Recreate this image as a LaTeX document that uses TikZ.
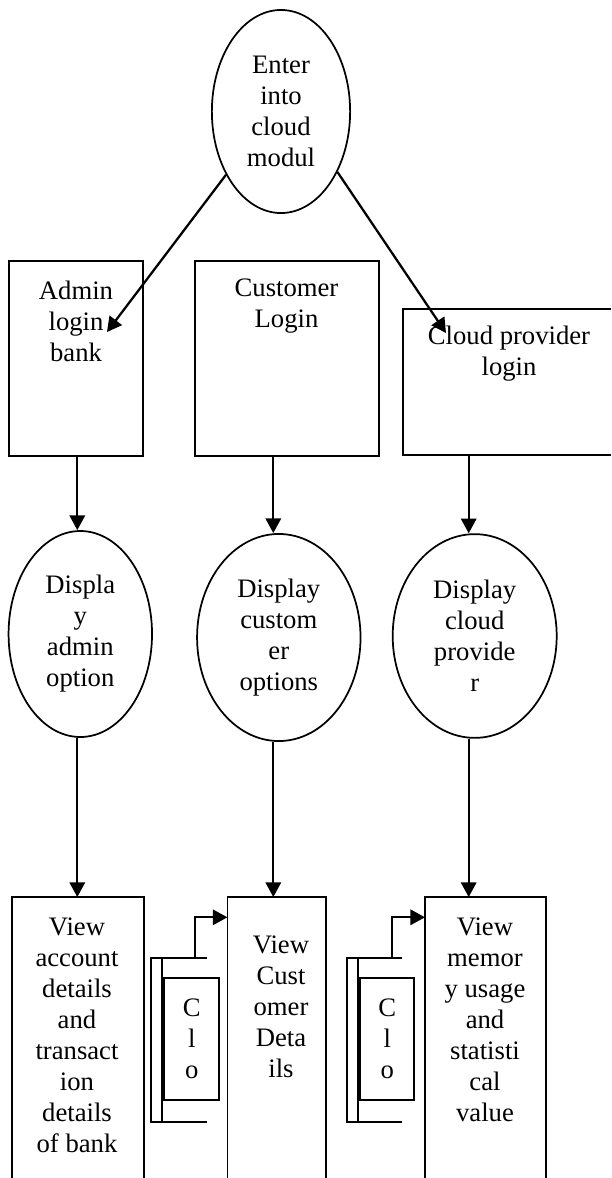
\documentclass[tikz,border=0pt]{standalone}
\usepackage{fontspec}
\setmainfont{Liberation Serif}
\usetikzlibrary{shapes.geometric,arrows.meta}

\begin{document}
\begin{tikzpicture}[x=0.75pt,y=-0.75pt,
  txt/.style={font=\fontsize{20}{23.25}\selectfont, align=center, inner sep=0pt},
  oval/.style={ellipse, draw, line width=1.3pt, inner sep=0pt, txt},
  box/.style={rectangle, draw, line width=1.4pt, inner sep=0pt},
  frame/.style={rectangle, inner sep=0pt},
  ln/.style={line width=1.4pt},
  arr/.style={line width=1.7pt, -{Triangle[length=11pt,width=11.5pt]}}]

\useasboundingbox (0,0) rectangle (611,1178);

% start
\node[oval, minimum width=103.7pt, minimum height=152.3pt] (top) at (281,111.5)
  {Enter\\into\\cloud\\modul};

% login boxes
\node[box, minimum width=100.5pt, minimum height=146.5pt] (abox) at (76.3,358.3) {};
\node[box, minimum width=137.8pt, minimum height=146.5pt] (cbox) at (286.85,358.3) {};
\node[frame, minimum width=155.8pt, minimum height=109.5pt] (pbox) at (507.15,382) {};
\draw[ln] (pbox.north east) -- (pbox.north west) -- (pbox.south west) -- (pbox.south east);

\node[txt] (atxt) at (76,321.5) {Admin\\login\\bank};
\node[txt] (ctxt) at (286.5,306) {Customer\\Login};
\node[txt] (ptxt) at (509,353.5) {Cloud provider\\login};

% option ellipses
\node[oval, minimum width=107.6pt, minimum height=154.5pt] (aell) at (80.3,634)
  {Displa\\y\\admin\\option};
\node[oval, minimum width=122.6pt, minimum height=155.3pt] (cell) at (278.8,637.5)
  {Display\\custom\\er\\options};
\node[oval, minimum width=123pt, minimum height=152.8pt] (pell) at (474.7,636)
  {Display\\cloud\\provide\\r};

% view boxes, open at the foot of the page
\node[frame, minimum width=98.25pt, minimum height=210.5pt] (aview) at (77.8,1037.65) {};
\node[frame, minimum width=73.7pt, minimum height=210.5pt] (cview) at (276.85,1037.65) {};
\node[frame, minimum width=90pt, minimum height=210.5pt] (pview) at (485.3,1037.65) {};
\foreach \v in {aview,cview,pview}
  \draw[ln] (\v.south west) -- (\v.north west) -- (\v.north east) -- (\v.south east);

\node[txt] (avtxt) at (77,1035) {View\\account\\details\\and\\transact\\ion\\details\\of bank};
\node[txt] (cvtxt) at (281,1006.5) {View\\Cust\\omer\\Deta\\ils};
\node[txt] (pvtxt) at (485,1020) {View\\memor\\y usage\\and\\statisti\\cal\\value};

% close widgets
\node[box, txt, minimum width=41.25pt, minimum height=91.7pt] (clo1) at (191.8,1038.85) {C\\l\\o};
\node[box, txt, minimum width=40.5pt, minimum height=91.7pt] (clo2) at (387.3,1038.85) {C\\l\\o};
\draw[ln] (206.7,957.7) -- (150.7,957.7) -- (150.7,1122.3) -- (206.7,1122.3);
\draw[ln] (161.7,957.7) -- (161.7,1122.3);
\draw[ln] (401.7,957.7) -- (346.7,957.7) -- (346.7,1122.3) -- (401.7,1122.3);
\draw[ln] (357.7,957.7) -- (357.7,1122.3);

% connector columns and free ends
\coordinate (xa) at (77.3,0);
\coordinate (xb) at (273.3,0);
\coordinate (xc) at (468.7,0);
\coordinate (ain) at (107,332);
\coordinate (pin) at (446,333);
\coordinate (e1) at (195,957.7);
\coordinate (k1) at (195,917.3);
\coordinate (e2) at (391.7,957.7);
\coordinate (k2) at (391.7,917.3);

% connectors
\draw[arr] (top.229) -- (ain);
\draw[arr] (top.313) -- (pin);

\draw[arr] (abox.south -| xa) -- (xa |- aell.north);
\draw[arr] (cbox.south -| xb) -- (xb |- cell.north);
\draw[arr] (pbox.south -| xc) -- (xc |- pell.north);

\draw[arr] (aell.south -| xa) -- (xa |- aview.north);
\draw[arr] (cell.south -| xb) -- (xb |- cview.north);
\draw[arr] (pell.south -| xc) -- (xc |- pview.north);

\draw[arr] (e1) -- (k1) -- (k1 -| cview.west);
\draw[arr] (e2) -- (k2) -- (k2 -| pview.west);
\end{tikzpicture}
\end{document}
